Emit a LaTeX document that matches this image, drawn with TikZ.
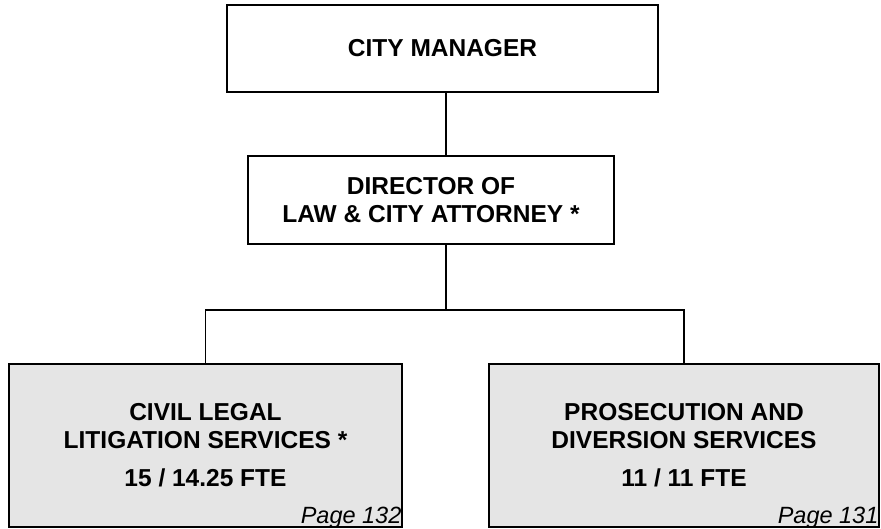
\documentclass[tikz,border=0pt]{standalone}
\usepackage{fontspec}
\setmainfont{Liberation Sans}
\begin{document}
\begin{tikzpicture}[x=1pt,y=-1pt,
  box/.style={draw=black, line width=1.2pt, rectangle, inner sep=0pt, align=center,
    font=\bfseries\fontsize{24.5}{28}\selectfont},
  unit/.style={box, fill=gray!20},
  pg/.style={anchor=base east, inner sep=0pt, font=\itshape\fontsize{23.5}{26}\selectfont},
  conn/.style={draw=black, line width=1.2pt}]
\useasboundingbox (0,0) rectangle (881,529);
\node[box, minimum width=431pt, minimum height=87pt] (cm) at (442.5,48.5) {CITY MANAGER};
\node[box, minimum width=366pt, minimum height=88pt] (dir) at (431,200) {DIRECTOR OF\\LAW \& CITY ATTORNEY *};
\node[unit, minimum width=393pt, minimum height=163pt] (civ) at (205.5,445.5)
  {CIVIL LEGAL\\LITIGATION SERVICES *\\[10pt]15 / 14.25 FTE};
\node[unit, minimum width=390pt, minimum height=163pt] (pros) at (684,445.5)
  {PROSECUTION AND\\DIVERSION SERVICES\\[10pt]11 / 11 FTE};
\node[pg] (p132) at ([xshift=-1pt,yshift=4pt]civ.south east) {Page 132};
\node[pg] (p131) at ([xshift=-1pt,yshift=4pt]pros.south east) {Page 131};
\coordinate (j) at (446,310);
\draw[conn] (cm.south -| j) -- (dir.north -| j);
\draw[conn] (dir.south -| j) -- (j);
\draw[conn] (civ.north) -- (civ.north |- j) -- (pros.north |- j) -- (pros.north);
\end{tikzpicture}
\end{document}
